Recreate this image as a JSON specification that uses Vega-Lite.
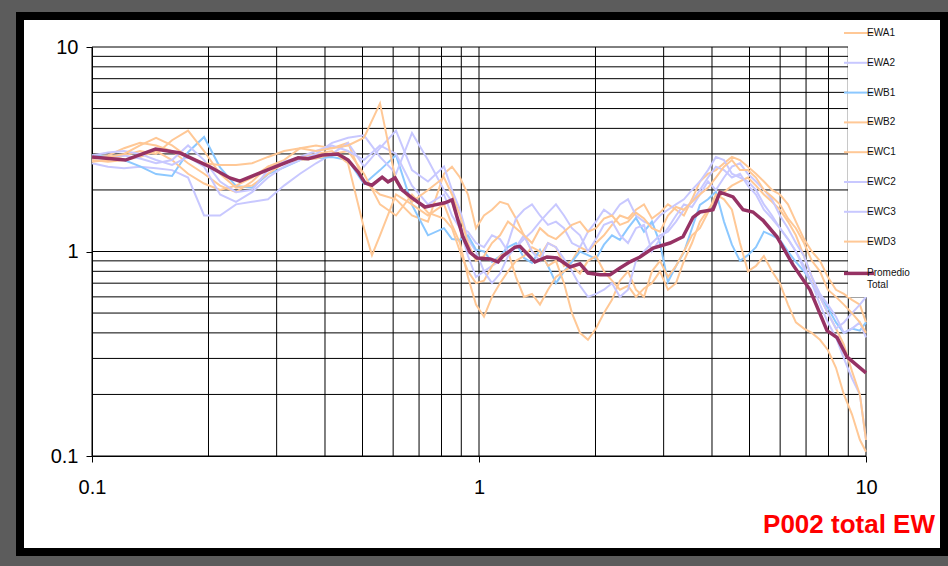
{
  "$schema": "https://vega.github.io/schema/vega-lite/v6.json",
  "width": 924,
  "height": 536,
  "autosize": {"type": "none"},
  "padding": {"left": 20, "top": 16, "right": 4, "bottom": 14},
  "background": "#5c5c5c",
  "config": {
    "view": {"stroke": "#000000", "strokeWidth": 8, "fill": "#ffffff"},
    "font": "Liberation Sans",
    "legend": {
      "orient": "none",
      "legendX": 828,
      "legendY": 6,
      "title": null,
      "symbolType": "stroke",
      "symbolSize": 900,
      "labelFontSize": 10,
      "labelFont": "Liberation Sans",
      "labelColor": "#111111",
      "fillColor": "#ffffff",
      "padding": 6,
      "rowPadding": 19.8,
      "labelOffset": 3
    }
  },
  "title": {
    "text": "P002 total EW",
    "orient": "bottom",
    "anchor": "end",
    "frame": "group",
    "offset": -40,
    "dx": -9,
    "color": "#ff0000",
    "fontSize": 26,
    "fontWeight": "bold",
    "font": "Liberation Sans",
    "letterSpacing": -0.8
  },
  "datasets": {
    "vgrid": [
      {"g": 0.1}, {"g": 0.2}, {"g": 0.3}, {"g": 0.4}, {"g": 0.5}, {"g": 0.6}, {"g": 0.7}, {"g": 0.8}, {"g": 0.9},
      {"g": 1}, {"g": 2}, {"g": 3}, {"g": 4}, {"g": 5}, {"g": 6}, {"g": 7}, {"g": 8}, {"g": 9}, {"g": 10}
    ],
    "series": [
      {"f": 0.1, "EWA1": 2.9, "EWA2": 2.7, "EWB1": 2.96, "EWB2": 2.8, "EWC1": 2.75, "EWC2": 2.95, "EWC3": 2.85, "EWD3": 2.85},
      {"f": 0.11, "EWA1": 2.95, "EWA2": 2.6, "EWB1": 2.9, "EWB2": 2.75, "EWC1": 2.8, "EWC2": 3.05, "EWC3": 2.9, "EWD3": 2.9},
      {"f": 0.121, "EWA1": 3.2, "EWA2": 2.55, "EWB1": 2.8, "EWB2": 2.8, "EWC1": 2.95, "EWC2": 3.1, "EWC3": 2.95, "EWD3": 3.0},
      {"f": 0.1331, "EWA1": 3.4, "EWA2": 2.6, "EWB1": 2.61, "EWB2": 2.9, "EWC1": 3.1, "EWC2": 3.0, "EWC3": 2.85, "EWD3": 3.3},
      {"f": 0.1464, "EWA1": 3.3, "EWA2": 2.55, "EWB1": 2.39, "EWB2": 3.1, "EWC1": 3.0, "EWC2": 2.8, "EWC3": 2.7, "EWD3": 3.6},
      {"f": 0.161, "EWA1": 3.1, "EWA2": 2.5, "EWB1": 2.34, "EWB2": 2.8, "EWC1": 3.5, "EWC2": 2.65, "EWC3": 2.8, "EWD3": 3.3},
      {"f": 0.1771, "EWA1": 2.7, "EWA2": 2.3, "EWB1": 3.06, "EWB2": 2.4, "EWC1": 3.9, "EWC2": 2.9, "EWC3": 3.3, "EWD3": 2.9},
      {"f": 0.1948, "EWA1": 2.4, "EWA2": 1.5, "EWB1": 3.63, "EWB2": 2.15, "EWC1": 3.1, "EWC2": 2.6, "EWC3": 2.8, "EWD3": 2.7},
      {"f": 0.2142, "EWA1": 2.1, "EWA2": 1.5, "EWB1": 2.58, "EWB2": 2.0, "EWC1": 2.4, "EWC2": 1.9, "EWC3": 2.2, "EWD3": 2.65},
      {"f": 0.2356, "EWA1": 1.95, "EWA2": 1.7, "EWB1": 2.09, "EWB2": 2.1, "EWC1": 2.05, "EWC2": 1.75, "EWC3": 1.95, "EWD3": 2.65},
      {"f": 0.2592, "EWA1": 2.2, "EWA2": 1.75, "EWB1": 2.05, "EWB2": 2.3, "EWC1": 2.1, "EWC2": 1.95, "EWC3": 2.0, "EWD3": 2.7},
      {"f": 0.285, "EWA1": 2.6, "EWA2": 1.8, "EWB1": 2.39, "EWB2": 2.6, "EWC1": 2.4, "EWC2": 2.3, "EWC3": 2.5, "EWD3": 2.9},
      {"f": 0.3135, "EWA1": 2.8, "EWA2": 2.1, "EWB1": 2.58, "EWB2": 2.75, "EWC1": 2.7, "EWC2": 2.6, "EWC3": 2.75, "EWD3": 3.1},
      {"f": 0.3448, "EWA1": 3.2, "EWA2": 2.4, "EWB1": 2.8, "EWB2": 2.8, "EWC1": 2.9, "EWC2": 2.8, "EWC3": 2.9, "EWD3": 3.2},
      {"f": 0.3792, "EWA1": 3.3, "EWA2": 2.7, "EWB1": 2.86, "EWB2": 2.85, "EWC1": 3.0, "EWC2": 3.0, "EWC3": 3.1, "EWD3": 3.1},
      {"f": 0.4171, "EWA1": 3.2, "EWA2": 3.0, "EWB1": 2.9, "EWB2": 3.0, "EWC1": 3.1, "EWC2": 3.4, "EWC3": 3.3, "EWD3": 3.2},
      {"f": 0.4587, "EWA1": 3.4, "EWA2": 3.4, "EWB1": 2.8, "EWB2": 3.1, "EWC1": 2.7, "EWC2": 3.6, "EWC3": 3.1, "EWD3": 3.3},
      {"f": 0.5045, "EWA1": 2.2, "EWA2": 2.6, "EWB1": 2.14, "EWB2": 2.4, "EWC1": 1.3, "EWC2": 3.7, "EWC3": 2.8, "EWD3": 3.6},
      {"f": 0.529, "EWC1": 0.96},
      {"f": 0.5549, "EWA1": 1.9, "EWA2": 3.2, "EWB1": 2.5, "EWB2": 1.7, "EWC1": 1.2, "EWC2": 2.9, "EWC3": 3.3, "EWD3": 5.3},
      {"f": 0.6103, "EWA1": 1.8, "EWA2": 3.9, "EWB1": 2.96, "EWB2": 1.5, "EWC1": 1.9, "EWC2": 2.4, "EWC3": 3.0, "EWD3": 2.2},
      {"f": 0.6712, "EWA1": 1.5, "EWA2": 2.5, "EWB1": 1.69, "EWB2": 1.9, "EWC1": 1.7, "EWC2": 3.8, "EWC3": 2.1, "EWD3": 1.75},
      {"f": 0.7382, "EWA1": 1.4, "EWA2": 2.2, "EWB1": 1.2, "EWB2": 1.55, "EWC1": 1.5, "EWC2": 2.8, "EWC3": 1.7, "EWD3": 2.0},
      {"f": 0.8119, "EWA1": 2.4, "EWA2": 2.6, "EWB1": 1.3, "EWB2": 1.45, "EWC1": 1.7, "EWC2": 2.0, "EWC3": 1.9, "EWD3": 2.3},
      {"f": 0.8515, "EWA1": 2.6, "EWA2": 2.0, "EWB1": 1.15, "EWB2": 1.3, "EWC1": 1.35, "EWC2": 1.75, "EWC3": 1.5, "EWD3": 1.9},
      {"f": 0.893, "EWA1": 2.3, "EWA2": 1.6, "EWB1": 1.14, "EWB2": 1.0, "EWC1": 1.1, "EWC2": 1.3, "EWC3": 1.3, "EWD3": 1.5},
      {"f": 0.9366, "EWA1": 1.9, "EWA2": 1.15, "EWB1": 1.2, "EWB2": 0.8, "EWC1": 0.75, "EWC2": 0.95, "EWC3": 1.25, "EWD3": 1.1},
      {"f": 0.9823, "EWA1": 1.3, "EWA2": 1.0, "EWB1": 1.02, "EWB2": 0.7, "EWC1": 0.55, "EWC2": 0.75, "EWC3": 1.1, "EWD3": 0.9},
      {"f": 1.0302, "EWA1": 1.5, "EWA2": 0.8, "EWB1": 1.0, "EWB2": 0.72, "EWC1": 0.48, "EWC2": 0.8, "EWC3": 1.05, "EWD3": 0.95},
      {"f": 1.0803, "EWA1": 1.6, "EWA2": 0.85, "EWB1": 0.89, "EWB2": 0.85, "EWC1": 0.6, "EWC2": 0.7, "EWC3": 1.2, "EWD3": 1.1},
      {"f": 1.1331, "EWA1": 1.75, "EWA2": 0.9, "EWB1": 0.95, "EWB2": 0.95, "EWC1": 0.7, "EWC2": 0.78, "EWC3": 1.15, "EWD3": 1.2},
      {"f": 1.1882, "EWA1": 1.7, "EWA2": 1.1, "EWB1": 1.05, "EWB2": 1.0, "EWC1": 0.8, "EWC2": 0.95, "EWC3": 1.0, "EWD3": 1.4},
      {"f": 1.2462, "EWA1": 1.45, "EWA2": 1.45, "EWB1": 1.1, "EWB2": 0.75, "EWC1": 0.9, "EWC2": 1.05, "EWC3": 1.05, "EWD3": 1.3},
      {"f": 1.3068, "EWA1": 1.2, "EWA2": 1.6, "EWB1": 0.93, "EWB2": 0.6, "EWC1": 0.95, "EWC2": 1.2, "EWC3": 1.15, "EWD3": 1.2},
      {"f": 1.3707, "EWA1": 1.0, "EWA2": 1.7, "EWB1": 0.88, "EWB2": 0.62, "EWC1": 1.05, "EWC2": 1.0, "EWC3": 1.25, "EWD3": 1.1},
      {"f": 1.4373, "EWA1": 0.95, "EWA2": 1.5, "EWB1": 1.02, "EWB2": 0.55, "EWC1": 1.0, "EWC2": 0.9, "EWC3": 1.4, "EWD3": 1.3},
      {"f": 1.5075, "EWA1": 1.1, "EWA2": 1.35, "EWB1": 0.85, "EWB2": 0.65, "EWC1": 0.85, "EWC2": 1.1, "EWC3": 1.55, "EWD3": 1.2},
      {"f": 1.5808, "EWA1": 1.05, "EWA2": 1.4, "EWB1": 0.7, "EWB2": 0.75, "EWC1": 0.9, "EWC2": 1.05, "EWC3": 1.7, "EWD3": 1.15},
      {"f": 1.6581, "EWA1": 0.85, "EWA2": 1.3, "EWB1": 0.8, "EWB2": 0.8, "EWC1": 0.7, "EWC2": 0.92, "EWC3": 1.5, "EWD3": 1.25},
      {"f": 1.7386, "EWA1": 0.9, "EWA2": 1.1, "EWB1": 0.89, "EWB2": 0.85, "EWC1": 0.5, "EWC2": 0.8, "EWC3": 1.3, "EWD3": 1.35},
      {"f": 1.8237, "EWA1": 1.05, "EWA2": 1.05, "EWB1": 1.0, "EWB2": 0.78, "EWC1": 0.4, "EWC2": 0.68, "EWC3": 1.2, "EWD3": 1.4},
      {"f": 1.9122, "EWA1": 1.0, "EWA2": 1.25, "EWB1": 0.96, "EWB2": 0.9, "EWC1": 0.37, "EWC2": 0.6, "EWC3": 1.0, "EWD3": 1.25},
      {"f": 2.0058, "EWA1": 1.1, "EWA2": 1.4, "EWB1": 0.92, "EWB2": 0.95, "EWC1": 0.42, "EWC2": 0.62, "EWC3": 1.15, "EWD3": 1.3},
      {"f": 2.1032, "EWA1": 1.2, "EWA2": 1.6, "EWB1": 1.08, "EWB2": 0.8, "EWC1": 0.5, "EWC2": 0.65, "EWC3": 1.35, "EWD3": 1.45},
      {"f": 2.2061, "EWA1": 1.35, "EWA2": 1.5, "EWB1": 1.2, "EWB2": 0.72, "EWC1": 0.58, "EWC2": 0.7, "EWC3": 1.4, "EWD3": 1.5},
      {"f": 2.3131, "EWA1": 1.5, "EWA2": 1.7, "EWB1": 1.14, "EWB2": 0.65, "EWC1": 0.72, "EWC2": 0.6, "EWC3": 1.2, "EWD3": 1.35},
      {"f": 2.4265, "EWA1": 1.45, "EWA2": 1.8, "EWB1": 1.3, "EWB2": 0.68, "EWC1": 0.8, "EWC2": 0.65, "EWC3": 1.1, "EWD3": 1.4},
      {"f": 2.5441, "EWA1": 1.6, "EWA2": 1.5, "EWB1": 1.46, "EWB2": 0.6, "EWC1": 0.65, "EWC2": 0.9, "EWC3": 1.3, "EWD3": 1.55},
      {"f": 2.6688, "EWA1": 1.7, "EWA2": 1.4, "EWB1": 1.25, "EWB2": 0.66, "EWC1": 0.6, "EWC2": 1.0, "EWC3": 1.35, "EWD3": 1.45},
      {"f": 2.7981, "EWA1": 1.45, "EWA2": 1.35, "EWB1": 1.4, "EWB2": 0.7, "EWC1": 0.8, "EWC2": 1.1, "EWC3": 1.0, "EWD3": 1.3},
      {"f": 2.9353, "EWA1": 1.55, "EWA2": 1.5, "EWB1": 1.1, "EWB2": 0.8, "EWC1": 0.9, "EWC2": 1.2, "EWC3": 1.15, "EWD3": 1.25},
      {"f": 3.0774, "EWA1": 1.7, "EWA2": 1.6, "EWB1": 0.71, "EWB2": 0.65, "EWC1": 0.75, "EWC2": 1.25, "EWC3": 1.3, "EWD3": 1.5},
      {"f": 3.2285, "EWA1": 1.6, "EWA2": 1.7, "EWB1": 0.85, "EWB2": 0.7, "EWC1": 0.85, "EWC2": 1.4, "EWC3": 1.5, "EWD3": 1.65},
      {"f": 3.3846, "EWA1": 1.5, "EWA2": 1.8, "EWB1": 0.99, "EWB2": 0.9, "EWC1": 1.0, "EWC2": 1.6, "EWC3": 1.7, "EWD3": 1.6},
      {"f": 3.551, "EWA1": 1.8, "EWA2": 2.0, "EWB1": 1.3, "EWB2": 1.1, "EWC1": 1.2, "EWC2": 1.75, "EWC3": 1.65, "EWD3": 1.75},
      {"f": 3.7226, "EWA1": 2.2, "EWA2": 2.2, "EWB1": 1.69, "EWB2": 1.4, "EWC1": 1.3, "EWC2": 2.0, "EWC3": 1.9, "EWD3": 1.9},
      {"f": 3.9056, "EWA1": 2.4, "EWA2": 2.5, "EWB1": 1.8, "EWB2": 1.6, "EWC1": 1.55, "EWC2": 2.3, "EWC3": 2.2, "EWD3": 2.05},
      {"f": 4.0942, "EWA1": 2.5, "EWA2": 2.9, "EWB1": 1.96, "EWB2": 1.8, "EWC1": 1.9, "EWC2": 2.6, "EWC3": 2.0, "EWD3": 2.3},
      {"f": 4.2956, "EWA1": 2.7, "EWA2": 2.8, "EWB1": 1.4, "EWB2": 1.95, "EWC1": 1.8, "EWC2": 2.5, "EWC3": 2.3, "EWD3": 2.6},
      {"f": 4.5031, "EWA1": 2.9, "EWA2": 2.4, "EWB1": 1.08, "EWB2": 2.1, "EWC1": 1.6, "EWC2": 2.3, "EWC3": 2.6, "EWD3": 2.8},
      {"f": 4.7246, "EWA1": 2.8, "EWA2": 2.3, "EWB1": 0.9, "EWB2": 2.2, "EWC1": 1.1, "EWC2": 2.4, "EWC3": 2.7, "EWD3": 2.5},
      {"f": 4.9527, "EWA1": 2.6, "EWA2": 2.2, "EWB1": 0.96, "EWB2": 2.3, "EWC1": 0.8, "EWC2": 2.1, "EWC3": 2.4, "EWD3": 2.5},
      {"f": 5.1964, "EWA1": 2.4, "EWA2": 2.0, "EWB1": 1.05, "EWB2": 2.1, "EWC1": 0.85, "EWC2": 1.9, "EWC3": 2.2, "EWD3": 2.3},
      {"f": 5.4471, "EWA1": 2.2, "EWA2": 1.7, "EWB1": 1.25, "EWB2": 1.9, "EWC1": 0.95, "EWC2": 1.6, "EWC3": 2.0, "EWD3": 2.0},
      {"f": 5.7154, "EWA1": 2.0, "EWA2": 1.5, "EWB1": 1.2, "EWB2": 1.75, "EWC1": 0.8, "EWC2": 1.45, "EWC3": 1.8, "EWD3": 1.85},
      {"f": 5.991, "EWA1": 1.9, "EWA2": 1.3, "EWB1": 1.14, "EWB2": 1.6, "EWC1": 0.7, "EWC2": 1.3, "EWC3": 1.5, "EWD3": 1.7},
      {"f": 6.2862, "EWA1": 1.7, "EWA2": 1.15, "EWB1": 1.0, "EWB2": 1.4, "EWC1": 0.55, "EWC2": 1.15, "EWC3": 1.3, "EWD3": 1.45},
      {"f": 6.5892, "EWA1": 1.4, "EWA2": 1.0, "EWB1": 0.89, "EWB2": 1.2, "EWC1": 0.45, "EWC2": 1.0, "EWC3": 1.1, "EWD3": 1.3},
      {"f": 6.9138, "EWA1": 1.15, "EWA2": 0.85, "EWB1": 0.8, "EWB2": 0.95, "EWC1": 0.42, "EWC2": 0.82, "EWC3": 0.95, "EWD3": 1.1},
      {"f": 7.2471, "EWA1": 1.0, "EWA2": 0.7, "EWB1": 0.7, "EWB2": 0.75, "EWC1": 0.4, "EWC2": 0.7, "EWC3": 0.75, "EWD3": 0.9},
      {"f": 7.6043, "EWA1": 0.9, "EWA2": 0.55, "EWB1": 0.6, "EWB2": 0.6, "EWC1": 0.37, "EWC2": 0.6, "EWC3": 0.62, "EWD3": 0.8},
      {"f": 7.9706, "EWA1": 0.75, "EWA2": 0.45, "EWB1": 0.53, "EWB2": 0.5, "EWC1": 0.33, "EWC2": 0.5, "EWC3": 0.55, "EWD3": 0.65},
      {"f": 8.3637, "EWA1": 0.65, "EWA2": 0.38, "EWB1": 0.45, "EWB2": 0.42, "EWC1": 0.27, "EWC2": 0.42, "EWC3": 0.48, "EWD3": 0.6},
      {"f": 8.7664, "EWA1": 0.62, "EWA2": 0.3, "EWB1": 0.4, "EWB2": 0.35, "EWC1": 0.2, "EWC2": 0.45, "EWC3": 0.4, "EWD3": 0.55},
      {"f": 9.1989, "EWA1": 0.58, "EWA2": 0.24, "EWB1": 0.42, "EWB2": 0.26, "EWC1": 0.16, "EWC2": 0.5, "EWC3": 0.42, "EWD3": 0.5},
      {"f": 9.6418, "EWA1": 0.55, "EWA2": 0.2, "EWB1": 0.41, "EWB2": 0.2, "EWC1": 0.12, "EWC2": 0.55, "EWC3": 0.45, "EWD3": 0.45},
      {"f": 10, "EWA1": 0.45, "EWA2": 0.12, "EWB1": 0.45, "EWB2": 0.12, "EWC1": 0.105, "EWC2": 0.6, "EWC3": 0.38, "EWD3": 0.4}
    ],
    "avg": [
      {"f": 0.1, "v": 2.9}, {"f": 0.122, "v": 2.8}, {"f": 0.146, "v": 3.17}, {"f": 0.169, "v": 3.03},
      {"f": 0.202, "v": 2.59}, {"f": 0.227, "v": 2.29}, {"f": 0.241, "v": 2.21}, {"f": 0.264, "v": 2.37},
      {"f": 0.297, "v": 2.59}, {"f": 0.341, "v": 2.87}, {"f": 0.362, "v": 2.84}, {"f": 0.393, "v": 2.96},
      {"f": 0.432, "v": 3.0}, {"f": 0.459, "v": 2.8}, {"f": 0.487, "v": 2.45}, {"f": 0.508, "v": 2.16},
      {"f": 0.529, "v": 2.11}, {"f": 0.562, "v": 2.31}, {"f": 0.582, "v": 2.19}, {"f": 0.607, "v": 2.29},
      {"f": 0.632, "v": 2.0}, {"f": 0.671, "v": 1.83}, {"f": 0.725, "v": 1.65}, {"f": 0.77, "v": 1.69},
      {"f": 0.817, "v": 1.73}, {"f": 0.852, "v": 1.79}, {"f": 0.878, "v": 1.47}, {"f": 0.909, "v": 1.18},
      {"f": 0.948, "v": 0.99}, {"f": 0.988, "v": 0.93}, {"f": 1.068, "v": 0.92}, {"f": 1.12, "v": 0.89},
      {"f": 1.153, "v": 0.95}, {"f": 1.239, "v": 1.05}, {"f": 1.276, "v": 1.06}, {"f": 1.395, "v": 0.89},
      {"f": 1.498, "v": 0.94}, {"f": 1.591, "v": 0.93}, {"f": 1.718, "v": 0.84}, {"f": 1.824, "v": 0.87},
      {"f": 1.912, "v": 0.785}, {"f": 2.055, "v": 0.77}, {"f": 2.181, "v": 0.77}, {"f": 2.314, "v": 0.83},
      {"f": 2.456, "v": 0.89}, {"f": 2.606, "v": 0.94}, {"f": 2.817, "v": 1.04}, {"f": 3.116, "v": 1.1},
      {"f": 3.366, "v": 1.18}, {"f": 3.573, "v": 1.47}, {"f": 3.725, "v": 1.56}, {"f": 4.024, "v": 1.6},
      {"f": 4.195, "v": 1.95}, {"f": 4.533, "v": 1.85}, {"f": 4.812, "v": 1.6}, {"f": 5.105, "v": 1.56},
      {"f": 5.418, "v": 1.42}, {"f": 5.889, "v": 1.18}, {"f": 6.477, "v": 0.86}, {"f": 7.166, "v": 0.65},
      {"f": 7.93, "v": 0.41}, {"f": 8.416, "v": 0.38}, {"f": 8.932, "v": 0.305}, {"f": 9.65, "v": 0.27},
      {"f": 10, "v": 0.255}
    ]
  },
  "layer": [
    {
      "data": {"name": "vgrid"},
      "mark": {"type": "rule", "color": "#000000", "strokeWidth": 1},
      "encoding": {
        "x": {
          "field": "g", "type": "quantitative",
          "scale": {"type": "log", "domain": [0.1, 10], "range": [72, 846], "nice": false},
          "axis": {"values": [0.1, 1, 10], "format": "~g", "title": null, "grid": false, "offset": -96,
                   "tickSize": 6, "tickColor": "#000000", "domainColor": "#000000", "labelColor": "#000000",
                   "labelFontSize": 20, "labelFont": "Liberation Sans", "labelPadding": 15, "labelFlush": false, "labelOverlap": false}
        },
        "y": {
          "datum": 0.1, "type": "quantitative",
          "scale": {"type": "log", "domain": [0.1, 10], "range": [440, 31], "nice": false},
          "axis": {"values": [0.1, 1, 10], "format": "~g", "title": null, "grid": false, "offset": -72,
                   "tickSize": 6, "tickColor": "#000000", "domainColor": "#000000", "labelColor": "#000000",
                   "labelFontSize": 20, "labelFont": "Liberation Sans", "labelPadding": 8, "labelFlush": false, "labelOverlap": false}
        },
        "y2": {"datum": 10}
      }
    },
    {
      "data": {"name": "vgrid"},
      "mark": {"type": "rule", "color": "#000000", "strokeWidth": 1},
      "encoding": {
        "y": {"field": "g", "type": "quantitative"},
        "x": {"datum": 0.1, "type": "quantitative"},
        "x2": {"datum": 10}
      }
    },
    {
      "data": {"name": "series"},
      "transform": [
        {"fold": ["EWA1", "EWA2", "EWB1", "EWB2", "EWC1", "EWC2", "EWC3", "EWD3"], "as": ["s", "v"]},
        {"filter": "isValid(datum.v)"}
      ],
      "mark": {"type": "line", "strokeWidth": 2},
      "encoding": {
        "x": {"field": "f", "type": "quantitative"},
        "y": {"field": "v", "type": "quantitative"},
        "color": {
          "field": "s", "type": "nominal",
          "scale": {
            "domain": ["EWA1", "EWA2", "EWB1", "EWB2", "EWC1", "EWC2", "EWC3", "EWD3", "Promedio Total"],
            "range": ["#ffc896", "#c8c8ff", "#8cc8ff", "#ffc896", "#ffc896", "#c8c8ff", "#c8c8ff", "#ffc896", "#963264"]
          },
          "legend": {"symbolStrokeWidth": {"expr": "datum.value == 'Promedio Total' ? 3.5 : 2"},
                     "labelExpr": "datum.label == 'Promedio Total' ? ['Promedio', 'Total'] : datum.label"}
        }
      }
    },
    {
      "data": {"name": "avg"},
      "transform": [{"calculate": "'Promedio Total'", "as": "s"}],
      "mark": {"type": "line", "strokeWidth": 3.5},
      "encoding": {
        "x": {"field": "f", "type": "quantitative"},
        "y": {"field": "v", "type": "quantitative"},
        "color": {"field": "s", "type": "nominal"}
      }
    }
  ]
}
